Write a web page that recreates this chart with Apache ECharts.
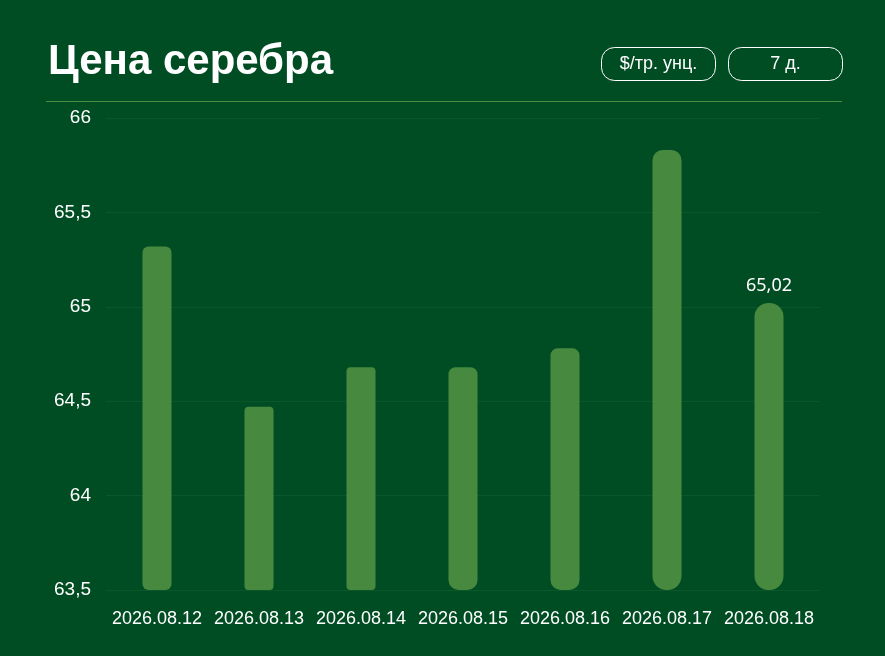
<!DOCTYPE html>
<html>
<head>
<meta charset="utf-8">
<script src="https://cdn.jsdelivr.net/npm/echarts@6/dist/echarts.min.js"></script>
<style>
  html, body { margin: 0; padding: 0; background: #004d24; }
  #chart { width: 885px; height: 656px; }
</style>
</head>
<body>
<div id="chart"></div>
<script>
var dates = ['2026.08.12', '2026.08.13', '2026.08.14', '2026.08.15', '2026.08.16', '2026.08.17', '2026.08.18'];
var prices = [65.32, 64.47, 64.68, 64.68, 64.78, 65.83, 65.02];
var yMin = 63.5;
var yMax = 66;
var yStep = 0.5;
// per-bar corner rounding [top, bottom]
var corners = [[6, 6], [4, 4], [4, 4], [7, 10], [7, 10], [10, 14], [14, 14]];

var chart = echarts.init(document.getElementById('chart'));
var fmt = function (v) { return String(v).replace('.', ','); };

var option = {
    backgroundColor: '#004d24',
    textStyle: { fontFamily: 'Liberation Sans, Arial, sans-serif' },
    grid: { left: 106, right: 65, top: 118, bottom: 66 },
    graphic: [
        { type: 'text', left: 48, top: 41,
          style: { text: 'Цена серебра', fill: '#ffffff', font: 'bold 42px "Liberation Sans", Arial, sans-serif' } },
        { type: 'rect', shape: { x: 601.5, y: 47.5, width: 114, height: 33, r: 13 },
          style: { fill: 'transparent', stroke: '#ffffff', lineWidth: 1 } },
        { type: 'text', x: 658.5, y: 64,
          style: { text: '$/тр. унц.', fill: '#ffffff', font: '18px "Liberation Sans", Arial, sans-serif', align: 'center', verticalAlign: 'middle' } },
        { type: 'rect', shape: { x: 728.5, y: 47.5, width: 114, height: 33, r: 13 },
          style: { fill: 'transparent', stroke: '#ffffff', lineWidth: 1 } },
        { type: 'text', x: 785.5, y: 64,
          style: { text: '7 д.', fill: '#ffffff', font: '18px "Liberation Sans", Arial, sans-serif', align: 'center', verticalAlign: 'middle' } },
        { type: 'line', shape: { x1: 46, y1: 101.5, x2: 842, y2: 101.5 },
          style: { stroke: '#4c8f40', lineWidth: 1 } }
    ],
    xAxis: {
        type: 'category',
        data: dates,
        axisLine: { show: false },
        axisTick: { show: false },
        axisLabel: { color: '#ffffff', fontSize: 18, margin: 20, interval: 0 }
    },
    yAxis: {
        type: 'value',
        min: yMin,
        max: yMax,
        interval: yStep,
        axisLine: { show: false },
        axisTick: { show: false },
        axisLabel: { color: '#ffffff', fontSize: 19, margin: 15, formatter: fmt },
        splitLine: { lineStyle: { color: '#0a5829', width: 1 } }
    },
    series: [
        {
            type: 'bar',
            stack: 'p',
            silent: true,
            data: prices.map(function () { return yMin; }),
            itemStyle: { color: 'transparent' },
            barWidth: 29
        },
        {
            type: 'bar',
            stack: 'p',
            barWidth: 29,
            data: prices.map(function (v, i) {
                var c = corners[i];
                return {
                    value: +(v - yMin).toFixed(2),
                    itemStyle: { borderRadius: [c[0], c[0], c[1], c[1]] }
                };
            }),
            itemStyle: { color: '#46893f' },
            label: {
                show: true,
                position: 'top',
                distance: 8,
                color: '#ffffff',
                fontSize: 18,
                fontFamily: 'Noto Sans, sans-serif',
                formatter: function (p) {
                    return p.dataIndex === prices.length - 1 ? fmt(prices[p.dataIndex].toFixed(2)) : '';
                }
            }
        }
    ]
};
chart.setOption(option);
</script>
</body>
</html>
